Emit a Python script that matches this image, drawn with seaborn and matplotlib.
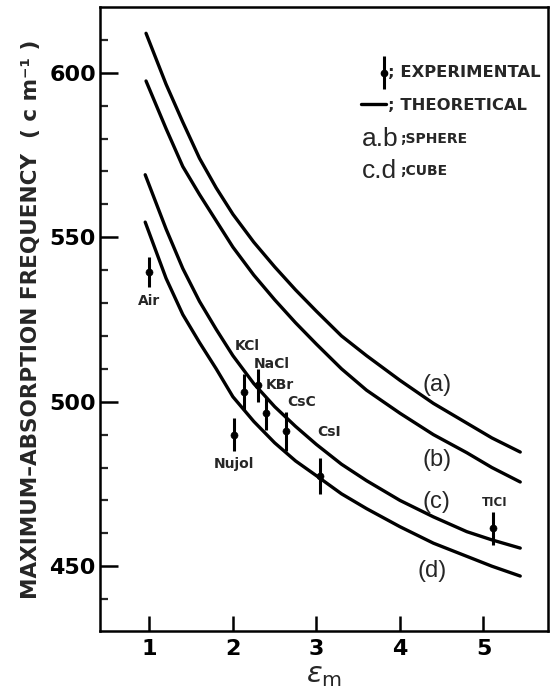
import matplotlib
matplotlib.use("Agg")
import matplotlib.pyplot as plt
import seaborn as sns
import pandas as pd

# ---- theoretical curves ----
eps_a = [0.96, 1.2, 1.4, 1.6, 1.8, 2.0, 2.25, 2.5, 2.75, 3.0, 3.3, 3.6, 4.0, 4.4, 4.8, 5.1, 5.44]
freq_a = [612.0, 596.5, 585.0, 574.0, 565.0, 557.0, 548.5, 541.0, 534.0, 527.5, 520.0,
          514.0, 506.5, 499.5, 493.5, 489.0, 484.7]

eps_b = [0.96, 1.2, 1.4, 1.6, 1.8, 2.0, 2.25, 2.5, 2.75, 3.0, 3.3, 3.6, 4.0, 4.4, 4.8, 5.1, 5.44]
freq_b = [597.5, 583.0, 571.5, 563.0, 555.0, 547.0, 538.5, 531.0, 524.0, 517.5, 510.0,
          503.5, 496.5, 490.0, 484.5, 480.0, 475.6]

eps_c = [0.95, 1.2, 1.4, 1.6, 1.8, 2.0, 2.25, 2.5, 2.75, 3.0, 3.3, 3.6, 4.0, 4.4, 4.8, 5.1, 5.44]
freq_c = [569.0, 552.5, 540.5, 530.5, 522.0, 514.0, 505.5, 498.5, 492.5, 487.0, 481.0,
          476.0, 470.0, 465.0, 460.5, 458.0, 455.5]

eps_d = [0.95, 1.2, 1.4, 1.6, 1.8, 2.0, 2.25, 2.5, 2.75, 3.0, 3.3, 3.6, 4.0, 4.4, 4.8, 5.1, 5.44]
freq_d = [554.6, 537.5, 526.5, 518.0, 510.0, 501.5, 494.0, 487.5, 482.0, 477.5, 472.0,
          467.5, 462.0, 457.0, 453.0, 450.0, 447.0]

curve_names = ["a", "b", "c", "d"]

# ---- experimental points ----
samples = ["Air", "Nujol", "KCl", "NaCl", "KBr", "CsC", "CsI", "TICI"]
eps_exp = [1.00, 2.01, 2.13, 2.30, 2.40, 2.63, 3.04, 5.11]
freq_exp = [539.5, 490.0, 503.0, 505.0, 496.5, 491.0, 477.5, 461.5]
err_exp = [4.5, 5.0, 5.5, 5.0, 5.0, 6.0, 5.5, 5.0]

x_ticks = [1, 2, 3, 4, 5]
y_major = [450, 500, 550, 600]

sns.set_style("ticks")
plt.rcParams["font.family"] = ["DejaVu Sans"]

fig = plt.figure(figsize=(5.5, 6.98), dpi=100)
ax = fig.add_axes([0.182, 0.096, 0.814, 0.894])

rows = []
for name, xs, ys in zip(curve_names, [eps_a, eps_b, eps_c, eps_d],
                        [freq_a, freq_b, freq_c, freq_d]):
    for x, y in zip(xs, ys):
        rows.append({"curve": name, "eps": x, "freq": y})
df = pd.DataFrame(rows)
sns.lineplot(data=df, x="eps", y="freq", units="curve", estimator=None,
             sort=True, color="black", linewidth=2.4, ax=ax, legend=False)

exp = pd.DataFrame({"sample": samples, "eps": eps_exp, "freq": freq_exp, "err": err_exp})
ax.errorbar(exp["eps"], exp["freq"], yerr=exp["err"], fmt="none", ecolor="black",
            elinewidth=2.2, capsize=0, zorder=5)
sns.scatterplot(data=exp, x="eps", y="freq", color="black", s=26, ax=ax,
                legend=False, zorder=6, edgecolor="black")

# sample labels
lab_pos = {"Air": (1.00, 530.5), "Nujol": (2.01, 481.0), "KCl": (2.17, 517.0),
           "NaCl": (2.47, 511.5), "KBr": (2.56, 505.0), "CsC": (2.82, 500.0),
           "CsI": (3.15, 490.8), "TICI": (5.13, 469.5)}
for s in samples:
    x, y = lab_pos[s]
    fs = 8.5 if s == "TICI" else 10
    ax.text(x, y, s, ha="center", va="center", fontsize=fs, fontweight="bold")

# curve labels
for name, (x, y) in zip(curve_names, [(4.44, 505), (4.44, 482.2), (4.44, 469.5), (4.38, 448.5)]):
    ax.text(x, y, f"({name})", ha="center", va="center", fontsize=17,
            family="Liberation Sans")

# legend drawn as text
ax.errorbar([3.81], [600], yerr=[5], fmt="o", color="black", markersize=4.5,
            elinewidth=2.2, capsize=0)
ax.text(3.86, 600, "; EXPERIMENTAL", ha="left", va="center", fontsize=11.8, fontweight="bold")
ax.plot([3.53, 3.83], [590.5, 590.5], color="black", linewidth=2.4)
ax.text(3.86, 590.2, "; THEORETICAL", ha="left", va="center", fontsize=11.8, fontweight="bold")
ax.text(3.55, 580, "a.b", ha="left", va="center", fontsize=19, family="Liberation Sans")
ax.text(4.00, 580, ";SPHERE", ha="left", va="center", fontsize=10, fontweight="bold")
ax.text(3.55, 570, "c.d", ha="left", va="center", fontsize=19, family="Liberation Sans")
ax.text(4.00, 570, ";CUBE", ha="left", va="center", fontsize=10, fontweight="bold")

ax.set_xlim(0.41, 5.77)
ax.set_ylim(430.3, 620)
ax.set_xticks(x_ticks)
ax.set_xticklabels([str(t) for t in x_ticks])
ax.set_yticks(y_major)
ax.set_yticklabels([str(t) for t in y_major])
ax.set_yticks(list(range(440, 620, 10)), minor=True)

ax.tick_params(axis="both", which="major", direction="in", width=1.8, labelsize=16, colors="black")
for lab in ax.get_xticklabels() + ax.get_yticklabels():
    lab.set_fontweight("bold")
ax.tick_params(axis="y", which="major", length=13, pad=3)
ax.tick_params(axis="x", which="major", length=11, pad=6)
ax.tick_params(axis="y", which="minor", direction="in", length=6, width=1.6)
for sp in ax.spines.values():
    sp.set_visible(True)
    sp.set_linewidth(1.8)
    sp.set_color("black")

ax.set_xlabel(r"$\epsilon_{\rm m}$", fontsize=21, labelpad=1)
ax.set_ylabel("MAXIMUM–ABSORPTION FREQUENCY  ( c m⁻¹ )", fontsize=15.5,
              fontweight="bold", labelpad=6)

fig.savefig("out.png", dpi=100)
